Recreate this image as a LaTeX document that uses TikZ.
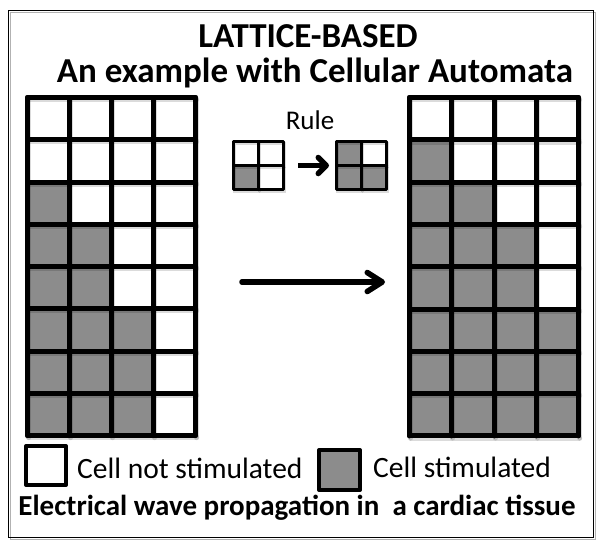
\documentclass[tikz,border=0pt]{standalone}
\usepackage{fontspec}
\setmainfont{Carlito}
\usetikzlibrary{arrows.meta}
\definecolor{cellgray}{RGB}{140,140,140}
\tikzset{
  txt/.style={inner sep=0pt, anchor=base},
  txtw/.style={inner sep=0pt, anchor=base west},
  bigline/.style={line width=5pt, line cap=round, line join=round},
  smallline/.style={line width=3pt, line cap=round, line join=round},
  bigshadow/.style={line width=5pt, line cap=round, draw=black, draw opacity=0.14, shift={(1.2pt,-2.2pt)}},
  smallshadow/.style={line width=3pt, line cap=round, draw=black, draw opacity=0.14, shift={(1pt,-1.8pt)}},
  legbox/.style={line width=4pt, line join=round},
}
% #1 x0, #2 y0, #3 cell w, #4 cell h, #5 columns, #6 list of gray counts per row, #7 line style, #8 shadow style
\newcommand\cagrid[8]{%
  \foreach \n [count=\r from 0] in {#6} {
    \foreach \c in {1,...,#5} {
      \ifnum\c>\n\relax\else
        \fill[cellgray] ({#1+(\c-1)*#3},{#2+\r*#4}) rectangle ++(#3,#4);
      \fi
    }
    \xdef\carows{\r}
  }
  \pgfmathsetmacro\cax{#1+#5*#3}
  \pgfmathsetmacro\cay{#2+(\carows+1)*#4}
  \foreach \s in {#8,#7} {
    \foreach \c in {0,...,#5} \draw[\s] ({#1+\c*#3},#2) -- ({#1+\c*#3},\cay);
    \foreach \r in {0,...,\carows} \draw[\s] (#1,{#2+\r*#4}) -- (\cax,{#2+\r*#4});
    \draw[\s] (#1,\cay) -- (\cax,\cay);
  }
}
\begin{document}
\begin{tikzpicture}[x=1pt,y=-1pt]
\useasboundingbox (0,0) rectangle (607,547);
\fill[white] (0,0) rectangle (607,547);
% frame
\draw[black!30, line width=1.5pt] (10.5,12.5) rectangle (595.5,539.5);
\draw[line width=1.5pt] (8.5,10.5) rectangle (593.5,537.5);
% titles
\node[txt, font=\bfseries\fontsize{35}{40}\selectfont] (t1) at (308,47) {LATTICE-BASED};
\node[txt, font=\bfseries\fontsize{35}{40}\selectfont] (t2) at (315,82) {An example with Cellular Automata};
% big grids
\cagrid{27.5}{97.5}{42}{42.25}{4}{0,0,1,2,2,3,3,3}{bigline}{bigshadow}
\cagrid{409.5}{97.5}{42.25}{42.3}{4}{0,1,2,3,3,4,4,4}{bigline}{bigshadow}
% rule
\node[txt, font=\fontsize{27}{30}\selectfont] (rule) at (310,129) {Rule};
\fill[cellgray] (233.5,165.5) rectangle (258.5,189.5);
\fill[cellgray] (336.5,141.5) rectangle (361.5,165.5);
\fill[cellgray] (336.5,165.5) rectangle (386.5,189.5);
\foreach \s in {smallshadow,smallline} {
  \draw[\s] (233.5,141.5) rectangle (283.5,189.5);
  \draw[\s] (258.5,141.5) -- (258.5,189.5);
  \draw[\s] (233.5,165.5) -- (283.5,165.5);
  \draw[\s] (336.5,141.5) rectangle (386.5,189.5);
  \draw[\s] (361.5,141.5) -- (361.5,189.5);
  \draw[\s] (336.5,165.5) -- (386.5,165.5);
}
\coordinate (ra) at (298,165.5);
\coordinate (rb) at (329,165.5);
\draw[line width=5.5pt, -{Straight Barb[round, length=8pt, width=16pt]}] (ra) -- (rb);
% big arrow
\coordinate (aa) at (242,282);
\coordinate (ab) at (385,282);
\draw[black, draw opacity=0.14, line width=5.5pt, line cap=round, shift={(1.2pt,-2.5pt)}, -{Straight Barb[round, length=15pt, width=19pt]}] (aa) -- (ab);
\draw[line width=5.5pt, line cap=round, -{Straight Barb[round, length=15pt, width=19pt]}] (aa) -- (ab);
% legend
\draw[legbox, fill=white] (26,446) rectangle (66,485);
\node[txtw, font=\fontsize{29.5}{32}\selectfont] (l1) at (77,478) {Cell not stimulated};
\draw[legbox, fill=cellgray] (319,450) rectangle (360,490);
\node[txtw, font=\fontsize{29.5}{32}\selectfont] (l2) at (373,477) {Cell stimulated};
\node[txt, font=\bfseries\fontsize{29}{32}\selectfont] (cap) at (297,515) {Electrical wave propagation in \ a cardiac tissue};
\end{tikzpicture}
\end{document}
